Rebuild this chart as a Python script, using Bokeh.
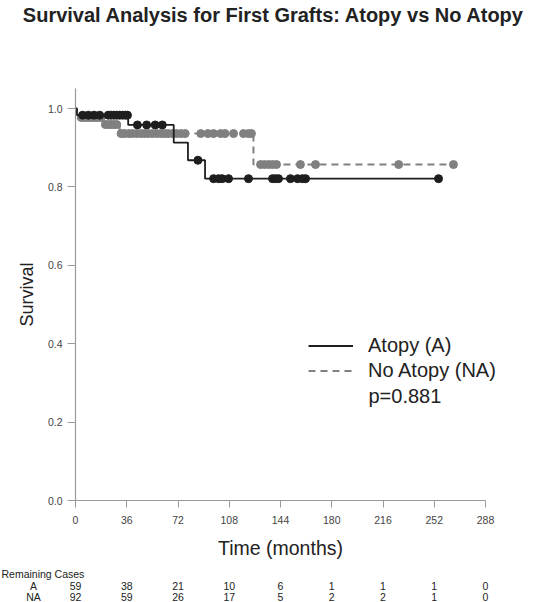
from bokeh.plotting import figure
from bokeh.models import Range1d, FixedTicker, Label, Legend, LegendItem, PrintfTickFormatter
from bokeh.embed import file_html
from bokeh.resources import INLINE

title_text = "Survival Analysis for First Grafts: Atopy vs No Atopy"

# Kaplan-Meier step curves (time in months, survival after the step)
a_step_t = [0, 1, 37, 69, 79, 91, 255]
a_step_s = [1.0, 0.983, 0.958, 0.913, 0.868, 0.821, 0.821]
na_step_t = [0, 1, 3, 20, 31, 125, 266]
na_step_s = [1.0, 0.989, 0.977, 0.959, 0.936, 0.857, 0.857]

# censored observations (times)
a_cens_t = [5, 9, 13, 17, 23, 25, 27, 29, 31, 33, 35, 36.5,
            43.5, 50, 56, 61,
            86,
            97, 100.5, 103, 107.5, 121.5, 138.4, 140.5, 142.6, 151, 156, 159.4, 161.6, 255]
na_cens_t = [4, 6, 8, 10, 12, 14, 16, 18,
             21, 23, 25, 27, 29,
             32, 34.5, 37.5, 40, 43, 46, 48.5, 51, 54, 57, 60, 62.5, 65, 68, 71, 74,
             77, 88, 93, 97, 102, 105, 111, 118, 121.5, 123.6,
             130, 132.8, 135.6, 138.4, 141.2, 158, 168.6, 227, 265.5]

# remaining cases table
rc_times = [0, 36, 72, 108, 144, 180, 216, 252, 288]
rc_a = [59, 38, 21, 10, 6, 1, 1, 1, 0]
rc_na = [92, 59, 26, 17, 5, 2, 2, 1, 0]
rc_title = "Remaining Cases"
rc_row_labels = ["A", "NA"]

x_ticks = [0, 36, 72, 108, 144, 180, 216, 252, 288]
y_ticks = [0.0, 0.2, 0.4, 0.6, 0.8, 1.0]
p_value_text = "p=0.881"


def surv_at(t, st, ss):
    val = ss[0]
    for ti, si in zip(st, ss):
        if ti <= t:
            val = si
    return val


a_cens_s = [surv_at(t, a_step_t, a_step_s) for t in a_cens_t]
na_cens_s = [surv_at(t, na_step_t, na_step_s) for t in na_cens_t]

FONT = "Liberation Sans"
BLACK = "#1e1e1e"
GRAY = "#808080"
TXT = "#222222"

W, H = 535, 602
X0_PX, Y0_PX = 75, 500          # pixel position of the (0, 0) corner of the plot area
PX_PER_MONTH = 410 / 288.0
PX_PER_UNIT = 392.0

x_range = Range1d(-X0_PX / PX_PER_MONTH, (W - X0_PX) / PX_PER_MONTH)
y_range = Range1d(-(H - Y0_PX) / PX_PER_UNIT, Y0_PX / PX_PER_UNIT)

p = figure(width=W, height=H, x_range=x_range, y_range=y_range,
           output_backend="svg", toolbar_location=None, min_border=0)
p.outline_line_color = None
p.xgrid.visible = False
p.ygrid.visible = False
p.background_fill_color = "white"

for ax in (p.xaxis[0], p.yaxis[0]):
    ax.fixed_location = 0
    ax.axis_line_color = "#9a9a9a"
    ax.axis_line_width = 1.2
    ax.major_tick_line_color = "#9a9a9a"
    ax.minor_tick_line_color = None
    ax.major_tick_in = 0
    ax.major_label_text_font = FONT
    ax.major_label_text_font_size = "10.5px"
    ax.major_label_text_color = "#444444"
    ax.axis_label_text_font = FONT
    ax.axis_label_text_font_style = "normal"
    ax.axis_label_text_color = TXT

p.xaxis[0].ticker = FixedTicker(ticks=x_ticks)
p.xaxis[0].bounds = (0, 288)
p.xaxis[0].major_tick_out = 7
p.xaxis[0].major_label_standoff = 8
p.xaxis[0].axis_label = "Time (months)"
p.xaxis[0].axis_label_text_font_size = "19.5px"
p.xaxis[0].axis_label_standoff = 10

p.yaxis[0].ticker = FixedTicker(ticks=y_ticks)
p.yaxis[0].bounds = (0, 1.05)
p.yaxis[0].formatter = PrintfTickFormatter(format="%.1f")
p.yaxis[0].major_tick_out = 8
p.yaxis[0].major_label_standoff = 5
p.yaxis[0].axis_label = "Survival"
p.yaxis[0].axis_label_text_font_size = "18px"
p.yaxis[0].axis_label_standoff = 8

na_line = p.step(na_step_t, na_step_s, mode="after", line_color=GRAY, line_width=2, line_dash="7 5")
p.scatter(na_cens_t, na_cens_s, size=8, fill_color=GRAY, line_color=GRAY)
a_line = p.step(a_step_t, a_step_s, mode="after", line_color=BLACK, line_width=1.8)
p.scatter(a_cens_t, a_cens_s, size=8, fill_color=BLACK, line_color=BLACK)

# legend (bottom-left corner given in pixels from the canvas bottom-left)
legend = Legend(items=[LegendItem(label="Atopy (A)", renderers=[a_line]),
                       LegendItem(label="No Atopy (NA)", renderers=[na_line])],
                location=(308, H - 382.5), orientation="vertical",
                glyph_width=45, glyph_height=25, label_height=25, label_standoff=15,
                spacing=0, padding=0, margin=0,
                border_line_color=None, background_fill_alpha=0,
                label_text_font=FONT, label_text_font_size="20px", label_text_color=TXT)
p.add_layout(legend)


def label(x, y_px, text, size, align="left", x_units="screen", style="normal"):
    p.add_layout(Label(x=x, y=H - y_px, x_units=x_units, y_units="screen", text=text,
                       text_font=FONT, text_font_size=size, text_color=TXT,
                       text_font_style=style, text_baseline="middle", text_align=align))


label(368, 395, p_value_text, "20px")
label(273.5, 14, title_text, "20px", align="center", style="bold")

# remaining cases table
label(1, 573, rc_title, "10.5px")
label(33, 585, rc_row_labels[0], "10.5px", align="center")
label(33, 596, rc_row_labels[1], "10.5px", align="center")
for t, a_n, na_n in zip(rc_times, rc_a, rc_na):
    label(t, 585, str(a_n), "10.5px", align="center", x_units="data")
    label(t, 596, str(na_n), "10.5px", align="center", x_units="data")

open("out.html", "w").write(file_html(p, INLINE))
